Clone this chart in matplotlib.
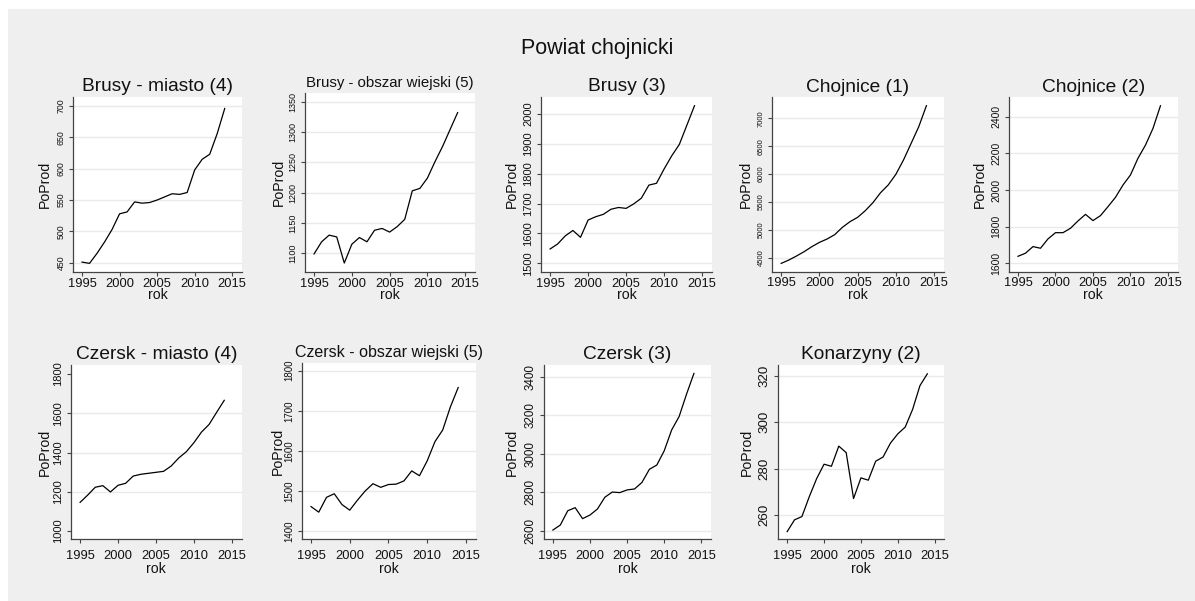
import matplotlib
matplotlib.use("Agg")
import matplotlib.pyplot as plt
from matplotlib.patches import Rectangle

plt.rcParams['font.family'] = ['Liberation Sans', 'DejaVu Sans']

# data (PoProd by year)
years = [1995, 1996, 1997, 1998, 1999, 2000, 2001, 2002, 2003, 2004,
         2005, 2006, 2007, 2008, 2009, 2010, 2011, 2012, 2013, 2014]

brusy_miasto = [451, 449, 465, 483, 503, 528, 531, 547, 545, 546,
                550, 555, 560, 559, 562, 598, 615, 623, 656, 696]
brusy_wies = [1099, 1119, 1130, 1127, 1084, 1115, 1126, 1119, 1138, 1141,
              1135, 1144, 1156, 1203, 1207, 1224, 1251, 1276, 1304, 1332]
brusy = [1548, 1565, 1592, 1610, 1587, 1645, 1656, 1664, 1681, 1687,
         1684, 1699, 1718, 1762, 1768, 1816, 1860, 1898, 1963, 2028]
chojnice_1 = [4398, 4458, 4530, 4608, 4697, 4775, 4835, 4913, 5044, 5146,
              5224, 5343, 5487, 5666, 5804, 5995, 6252, 6551, 6850, 7227]
chojnice_2 = [1638, 1655, 1691, 1682, 1733, 1767, 1767, 1791, 1831, 1867,
              1833, 1860, 1909, 1960, 2027, 2082, 2173, 2245, 2336, 2460]
czersk_miasto = [1146, 1183, 1223, 1231, 1199, 1233, 1243, 1280, 1289, 1294,
                 1299, 1304, 1331, 1372, 1404, 1450, 1504, 1543, 1605, 1666]
czersk_wies = [1461, 1447, 1484, 1493, 1466, 1452, 1477, 1500, 1518, 1509,
               1516, 1517, 1525, 1550, 1538, 1575, 1623, 1652, 1710, 1758]
czersk = [2605, 2631, 2705, 2721, 2664, 2683, 2714, 2775, 2802, 2799,
          2813, 2818, 2852, 2920, 2942, 3016, 3124, 3193, 3309, 3417]
konarzyny = [252.8, 257.9, 259.3, 267.9, 275.7, 281.9, 281.0, 289.7, 286.9, 267.1,
             276.0, 275.0, 283.2, 285.0, 291.0, 295.0, 297.9, 305.5, 315.8, 320.9]

xticks = [1995, 2000, 2005, 2010, 2015]

titles = ["Brusy - miasto (4)", "Brusy - obszar wiejski (5)", "Brusy (3)",
          "Chojnice (1)", "Chojnice (2)", "Czersk - miasto (4)",
          "Czersk - obszar wiejski (5)", "Czersk (3)", "Konarzyny (2)"]
series = [brusy_miasto, brusy_wies, brusy, chojnice_1, chojnice_2,
          czersk_miasto, czersk_wies, czersk, konarzyny]
yticks = [[450, 500, 550, 600, 650, 700],
          [1100, 1150, 1200, 1250, 1300, 1350],
          [1500, 1600, 1700, 1800, 1900, 2000],
          [4500, 5000, 5500, 6000, 6500, 7000],
          [1600, 1800, 2000, 2200, 2400],
          [1000, 1200, 1400, 1600, 1800],
          [1400, 1500, 1600, 1700, 1800],
          [2600, 2800, 3000, 3200, 3400],
          [260, 280, 300, 320]]

# layout: pixel boxes (left, top, right, bottom), y range, font sizes
layout = [
    dict(box=(73, 96.7, 242, 272), ylim=(435.2, 714.8), ts=13.8, ys=6.3, yl=28, row=0),
    dict(box=(305, 92.7, 475, 272), ylim=(1069.2, 1364.8), ts=10.8, ys=6.5, yl=25.7, row=0),
    dict(box=(541, 96.7, 712, 272), ylim=(1470.9, 2058), ts=13.8, ys=8.0, yl=29, row=0),
    dict(box=(772, 97.3, 944, 271.7), ylim=(4249, 7377), ts=13.8, ys=5.5, yl=26, row=0),
    dict(box=(1009, 97.3, 1177.7, 271.7), ylim=(1554, 2506), ts=13.8, ys=7.5, yl=29, row=0),
    dict(box=(71, 365, 241.7, 539.3), ylim=(957.7, 1845.9), ts=13.8, ys=8.0, yl=26, row=1,
         nogrid=[1000, 1800]),
    dict(box=(301.7, 362.7, 476, 539.3), ylim=(1379.3, 1820), ts=11.5, ys=7.0, yl=23.7, row=1),
    dict(box=(544, 365, 711, 539.3), ylim=(2557, 3460.6), ts=13.8, ys=8.4, yl=32, row=1),
    dict(box=(778.3, 365, 944.3, 539.3), ylim=(249.5, 324.7), ts=13.8, ys=9.6, yl=31.7, row=1),
]

W, H = 1195, 601
fig = plt.figure(figsize=(W / 100, H / 100), dpi=100)
fig.patch.set_facecolor('white')
fig.patches.append(Rectangle((8 / W, 0), 1 - 8 / W, 1 - 9 / H, transform=fig.transFigure,
                             facecolor='#efefef', edgecolor='none', zorder=-5))

fig.text(0.5, 1 - 54 / H, "Powiat chojnicki", ha='center', va='baseline',
         fontsize=15.5, color='#111111')

for title, y, yt, lay in zip(titles, series, yticks, layout):
    l, t, r, b = lay['box']
    wpx, hpx = r - l, b - t
    ax = fig.add_axes([l / W, 1 - b / H, wpx / W, hpx / H])
    ax.set_facecolor('white')
    ax.plot(years, y, color='black', linewidth=0.9)
    ax.set_xlim(1993.8, 2016.3)
    ax.set_ylim(*lay['ylim'])
    ax.set_xticks(xticks)
    ax.set_yticks(yt)
    for s in ['top', 'right']:
        ax.spines[s].set_visible(False)
    for s in ['left', 'bottom']:
        ax.spines[s].set_color('#444444')
        ax.spines[s].set_linewidth(0.9)
    ax.grid(axis='y', color='#eaeaea', linewidth=1.0)
    ax.set_axisbelow(True)
    if 'nogrid' in lay:
        for val, gl in zip(yt, ax.yaxis.get_gridlines()):
            if val in lay['nogrid']:
                gl.set_visible(False)
    xpad = 1.0 if lay['row'] == 0 else 4.6
    ax.tick_params(axis='x', length=3.1, width=0.8, color='#444444', pad=xpad,
                   labelsize=9.3, labelcolor='#111111')
    ax.tick_params(axis='y', length=3.2, width=0.8, color='#444444', pad=2.2,
                   labelsize=lay['ys'], labelcolor='#111111', labelrotation=90)
    for lab in ax.get_yticklabels():
        lab.set_va('center')
    ax.set_title(title, fontsize=lay['ts'], pad=4, color='#111111')
    ax.text(-lay['yl'] / wpx, 0.5, "PoProd", transform=ax.transAxes, rotation=90,
            ha='center', va='center', fontsize=10.2, color='#111111')
    xl = 23 if lay['row'] == 0 else 30
    ax.text(0.5, -xl / hpx, "rok", transform=ax.transAxes,
            ha='center', va='center', fontsize=10.2, color='#111111')

fig.savefig("out.png", dpi=100, facecolor=fig.get_facecolor())
